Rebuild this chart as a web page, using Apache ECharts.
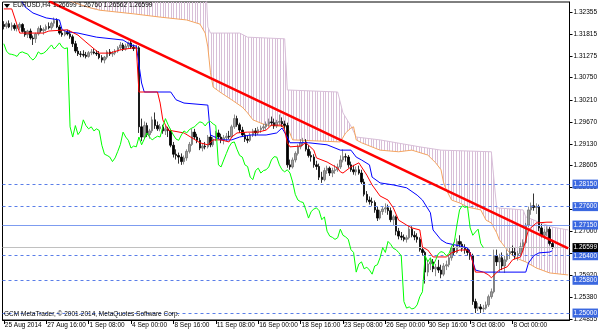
<!DOCTYPE html>
<html><head><meta charset="utf-8">
<script src="https://cdn.jsdelivr.net/npm/echarts@6/dist/echarts.min.js"></script>
<style>html,body{margin:0;padding:0;background:#fff}#c{width:600px;height:333px}</style>
</head><body><div id="c"></div>
<script>
// ---------- data ----------
const tickLabels = ['25 Aug 2014','27 Aug 16:00','1 Sep 08:00','4 Sep 00:00','8 Sep 16:00','11 Sep 08:00','16 Sep 00:00','18 Sep 16:00','23 Sep 08:00','26 Sep 00:00','30 Sep 16:00','3 Oct 08:00','8 Oct 00:00'];
const tickEvery = 16;
const barSlots = 214;
const yTicks = [1.32355,1.31815,1.31275,1.30750,1.30210,1.29670,1.29130,1.28605,1.28065,1.27525,1.27000,1.26460,1.25920,1.25380,1.24855];
const dashedLevels = [1.28150,1.27600,1.26400,1.25800,1.25000];
const solidLevel = 1.27150;
const lastPrice = 1.26599;
const symbolText = 'EURUSD,H4';
const quoteText = '1.26699 1.26760 1.26562 1.26599';
const footerText = 'GCM MetaTrader, \u00a9 2001-2014, MetaQuotes Software Corp.';

// [open, high, low, close] per H4 bar
const candles = [
[1.3205,1.3213,1.3193,1.3200],[1.3200,1.3212,1.3195,1.3207],[1.3207,1.3215,1.3196,1.3199],[1.3199,1.3210,1.3190,1.3203],[1.3203,1.3208,1.3190,1.3195],[1.3195,1.3205,1.3188,1.3198],
[1.3198,1.3210,1.3192,1.3205],[1.3205,1.3208,1.3185,1.3188],[1.3188,1.3196,1.3175,1.3180],[1.3180,1.3192,1.3172,1.3189],[1.3189,1.3195,1.3168,1.3172],[1.3172,1.3178,1.3155,1.3170],
[1.3170,1.3185,1.3160,1.3182],[1.3182,1.3200,1.3178,1.3195],[1.3195,1.3203,1.3185,1.3190],[1.3190,1.3198,1.3180,1.3193],[1.3193,1.3205,1.3188,1.3200],[1.3200,1.3210,1.3193,1.3197],
[1.3197,1.3212,1.3192,1.3208],[1.3208,1.3222,1.3200,1.3215],[1.3215,1.3220,1.3196,1.3199],[1.3199,1.3204,1.3180,1.3184],[1.3184,1.3192,1.3175,1.3180],[1.3180,1.3190,1.3176,1.3186],
[1.3186,1.3192,1.3178,1.3182],[1.3182,1.3190,1.3170,1.3175],[1.3175,1.3180,1.3150,1.3158],[1.3158,1.3165,1.3135,1.3140],[1.3140,1.3150,1.3128,1.3133],[1.3133,1.3140,1.3125,1.3132],
[1.3132,1.3142,1.3125,1.3130],[1.3130,1.3138,1.3122,1.3127],[1.3127,1.3140,1.3124,1.3136],[1.3136,1.3145,1.3130,1.3138],[1.3138,1.3146,1.3132,1.3135],[1.3135,1.3142,1.3128,1.3133],
[1.3133,1.3140,1.3120,1.3124],[1.3124,1.3130,1.3112,1.3118],[1.3118,1.3128,1.3110,1.3125],[1.3125,1.3142,1.3120,1.3138],[1.3138,1.3145,1.3128,1.3133],[1.3133,1.3140,1.3126,1.3135],
[1.3135,1.3145,1.3130,1.3140],[1.3140,1.3152,1.3136,1.3148],[1.3148,1.3162,1.3142,1.3155],[1.3155,1.3160,1.3140,1.3145],[1.3145,1.3158,1.3141,1.3152],[1.3152,1.3163,1.3147,1.3160],
[1.3160,1.3165,1.3145,1.3150],[1.3150,1.3156,1.3140,1.3146],[1.3146,1.3155,1.3140,1.3148],[1.3148,1.3152,1.2940,1.2955],[1.2955,1.2975,1.2920,1.2930],[1.2930,1.2968,1.2925,1.2958],
[1.2958,1.2965,1.2930,1.2936],[1.2936,1.2950,1.2926,1.2945],[1.2945,1.2980,1.2940,1.2972],[1.2972,1.2990,1.2950,1.2958],[1.2958,1.2968,1.2945,1.2950],[1.2950,1.2962,1.2944,1.2955],
[1.2955,1.2960,1.2938,1.2945],[1.2945,1.2958,1.2935,1.2950],[1.2950,1.2955,1.2930,1.2946],[1.2946,1.2950,1.2905,1.2910],[1.2910,1.2918,1.2880,1.2888],[1.2888,1.2900,1.2875,1.2885],
[1.2885,1.2892,1.2865,1.2881],[1.2881,1.2890,1.2862,1.2870],[1.2870,1.2885,1.2863,1.2879],[1.2879,1.2900,1.2872,1.2895],[1.2895,1.2918,1.2890,1.2912],[1.2912,1.2950,1.2908,1.2942],
[1.2942,1.2950,1.2925,1.2930],[1.2930,1.2938,1.2915,1.2922],[1.2922,1.2928,1.2898,1.2903],[1.2903,1.2915,1.2895,1.2908],[1.2908,1.2918,1.2900,1.2906],[1.2906,1.2935,1.2902,1.2930],
[1.2930,1.2936,1.2905,1.2911],[1.2911,1.2930,1.2906,1.2925],[1.2925,1.2945,1.2920,1.2940],[1.2940,1.2948,1.2925,1.2930],[1.2930,1.2938,1.2915,1.2923],[1.2923,1.2935,1.2912,1.2928],
[1.2928,1.2940,1.2920,1.2932],[1.2932,1.2945,1.2925,1.2930],[1.2930,1.2960,1.2928,1.2955],[1.2955,1.2985,1.2950,1.2975],[1.2975,1.2982,1.2955,1.2960],[1.2960,1.2965,1.2940,1.2947],
[1.2947,1.2955,1.2930,1.2935],[1.2935,1.2942,1.2918,1.2925],[1.2925,1.2935,1.2915,1.2922],[1.2922,1.2940,1.2918,1.2935],[1.2935,1.2950,1.2930,1.2945],[1.2945,1.2952,1.2932,1.2940],
[1.2940,1.2955,1.2935,1.2948],[1.2948,1.2958,1.2940,1.2952],[1.2952,1.2962,1.2945,1.2955],[1.2955,1.2968,1.2948,1.2962],[1.2962,1.2975,1.2955,1.2967],[1.2967,1.2980,1.2958,1.2965],
[1.2965,1.2975,1.2950,1.2957],[1.2957,1.2972,1.2952,1.2966],[1.2966,1.2985,1.2960,1.2968],[1.2968,1.2978,1.2955,1.2962],[1.2962,1.2970,1.2950,1.2958],[1.2958,1.2965,1.2855,1.2862],
[1.2862,1.2875,1.2850,1.2857],[1.2857,1.2880,1.2853,1.2874],[1.2874,1.2895,1.2868,1.2890],[1.2890,1.2912,1.2885,1.2906],[1.2906,1.2925,1.2900,1.2916],[1.2916,1.2928,1.2908,1.2918],
[1.2918,1.2925,1.2895,1.2900],[1.2900,1.2910,1.2880,1.2885],[1.2885,1.2895,1.2870,1.2881],[1.2881,1.2888,1.2855,1.2862],[1.2862,1.2872,1.2850,1.2858],[1.2858,1.2865,1.2825,1.2832],
[1.2832,1.2845,1.2818,1.2826],[1.2826,1.2855,1.2822,1.2848],[1.2848,1.2860,1.2840,1.2854],[1.2854,1.2858,1.2835,1.2842],[1.2842,1.2855,1.2832,1.2848],[1.2848,1.2862,1.2840,1.2850],
[1.2850,1.2865,1.2845,1.2857],[1.2857,1.2885,1.2852,1.2874],[1.2874,1.2900,1.2868,1.2882],[1.2882,1.2890,1.2870,1.2881],[1.2881,1.2886,1.2855,1.2862],[1.2862,1.2870,1.2845,1.2850],
[1.2850,1.2862,1.2838,1.2845],[1.2845,1.2858,1.2836,1.2850],[1.2850,1.2860,1.2838,1.2842],[1.2842,1.2850,1.2815,1.2820],[1.2820,1.2828,1.2785,1.2790],[1.2790,1.2798,1.2770,1.2776],
[1.2776,1.2785,1.2765,1.2772],[1.2772,1.2782,1.2762,1.2770],[1.2770,1.2775,1.2745,1.2752],[1.2752,1.2760,1.2725,1.2732],[1.2732,1.2752,1.2728,1.2748],[1.2748,1.2760,1.2740,1.2754],
[1.2754,1.2768,1.2745,1.2757],[1.2757,1.2765,1.2740,1.2750],[1.2750,1.2758,1.2722,1.2728],[1.2728,1.2740,1.2715,1.2735],[1.2735,1.2738,1.2690,1.2700],[1.2700,1.2708,1.2680,1.2688],
[1.2688,1.2698,1.2678,1.2685],[1.2685,1.2692,1.2675,1.2680],[1.2680,1.2690,1.2672,1.2684],[1.2684,1.2712,1.2680,1.2705],[1.2705,1.2712,1.2685,1.2690],[1.2690,1.2700,1.2678,1.2686],
[1.2686,1.2695,1.2672,1.2680],[1.2680,1.2685,1.2650,1.2655],[1.2655,1.2662,1.2640,1.2648],[1.2648,1.2652,1.2572,1.2600],[1.2600,1.2630,1.2590,1.2620],[1.2620,1.2635,1.2605,1.2625],
[1.2625,1.2632,1.2600,1.2608],[1.2608,1.2620,1.2590,1.2612],[1.2612,1.2630,1.2598,1.2605],[1.2605,1.2618,1.2585,1.2595],[1.2595,1.2622,1.2590,1.2615],[1.2615,1.2628,1.2605,1.2618],
[1.2618,1.2640,1.2612,1.2635],[1.2635,1.2665,1.2628,1.2660],[1.2660,1.2672,1.2640,1.2648],[1.2648,1.2682,1.2645,1.2675],[1.2675,1.2690,1.2660,1.2668],[1.2668,1.2675,1.2650,1.2658],
[1.2658,1.2668,1.2645,1.2655],[1.2655,1.2660,1.2640,1.2648],[1.2648,1.2655,1.2630,1.2640],[1.2640,1.2645,1.2520,1.2528],[1.2528,1.2535,1.2500,1.2512],[1.2512,1.2525,1.2505,1.2515],
[1.2515,1.2522,1.2500,1.2510],[1.2510,1.2520,1.2502,1.2512],[1.2512,1.2528,1.2508,1.2520],[1.2520,1.2545,1.2515,1.2540],[1.2540,1.2560,1.2535,1.2552],[1.2552,1.2655,1.2548,1.2640],
[1.2640,1.2655,1.2615,1.2625],[1.2625,1.2645,1.2600,1.2635],[1.2635,1.2648,1.2605,1.2615],[1.2615,1.2640,1.2598,1.2630],[1.2630,1.2655,1.2625,1.2645],[1.2645,1.2660,1.2632,1.2650],
[1.2650,1.2665,1.2640,1.2648],[1.2648,1.2660,1.2632,1.2640],[1.2640,1.2652,1.2628,1.2645],[1.2645,1.2672,1.2640,1.2662],[1.2662,1.2680,1.2650,1.2672],[1.2672,1.2720,1.2668,1.2715],
[1.2715,1.2760,1.2710,1.2752],[1.2752,1.2770,1.2740,1.2762],[1.2762,1.2792,1.2750,1.2758],[1.2758,1.2768,1.2742,1.2760],[1.2760,1.2765,1.2700,1.2708],[1.2708,1.2718,1.2685,1.2690],
[1.2690,1.2705,1.2680,1.2698],[1.2698,1.2712,1.2688,1.2705],[1.2705,1.2710,1.2665,1.2670],[1.26699,1.26760,1.26562,1.26599]
];
const chikouShift = 26;

// Ichimoku lines, vertices read as [bar, price]
const tenkan = [[0,1.3243],[3,1.3243],[5,1.3204],[6,1.3184],[15,1.3184],[17,1.3189],[24,1.3192],[28,1.3179],[31,1.3162],[36,1.3135],[40,1.3135],[44,1.3143],[49,1.3148],[50,1.3148],[51,1.3040],[58,1.3040],[59,1.3013],[60,1.2972],[62,1.2947],[68,1.2940],[74,1.2916],[77,1.2911],[79,1.2923],[82,1.2923],[85,1.2918],[86,1.2930],[88,1.2940],[92,1.2942],[96,1.2942],[99,1.2947],[101,1.2959],[105,1.2959],[106,1.2947],[107,1.2916],[108,1.2906],[112,1.2908],[114,1.2916],[117,1.2898],[118,1.2879],[122,1.2869],[126,1.2854],[127,1.2845],[128,1.2842],[131,1.2857],[134,1.2867],[135,1.2857],[137,1.2837],[139,1.2813],[142,1.2786],[145,1.2776],[147,1.2757],[149,1.2727],[152,1.2715],[154,1.2708],[157,1.2703],[158,1.2661],[160,1.2654],[162,1.2637],[167,1.2637],[169,1.2647],[172,1.2654],[175,1.2654],[176,1.2647],[178,1.2600],[181,1.2600],[183,1.2593],[184,1.2586],[187,1.2605],[190,1.2613],[192,1.2630],[195,1.2637],[196,1.2654],[197,1.2679],[198,1.2703],[201,1.2720],[205,1.2722],[207,1.2722]];
const kijun = [[6,1.3270],[8,1.3248],[11,1.3233],[16,1.3221],[21,1.3216],[22,1.3192],[24,1.3187],[28,1.3184],[35,1.3174],[45,1.3167],[48,1.3155],[50,1.3152],[52,1.3062],[53,1.3040],[63,1.3040],[65,1.3021],[68,1.3013],[77,1.3008],[78,1.2935],[82,1.2923],[86,1.2923],[89,1.2930],[93,1.2935],[99,1.2935],[103,1.2940],[105,1.2952],[107,1.2930],[108,1.2916],[115,1.2916],[122,1.2911],[127,1.2898],[131,1.2898],[133,1.2881],[135,1.2874],[138,1.2862],[139,1.2832],[142,1.2818],[147,1.2813],[152,1.2806],[156,1.2788],[158,1.2776],[161,1.2745],[162,1.2703],[165,1.2679],[167,1.2671],[172,1.2664],[175,1.2659],[176,1.2647],[178,1.2605],[181,1.2600],[197,1.2600],[198,1.2622],[200,1.2640],[202,1.2647],[206,1.2649],[207,1.2652]];
const spanA = [[0,1.3320],[22,1.3290],[24,1.3265],[29,1.3253],[33,1.3245],[35,1.3242],[36,1.3240],[49,1.3231],[59,1.3223],[69,1.3216],[74,1.3206],[76,1.3184],[77,1.3150],[78,1.3087],[79,1.3052],[82,1.3038],[86,1.3021],[90,1.3003],[92,1.2989],[94,1.2972],[97,1.2964],[99,1.2959],[107,1.2955],[109,1.2923],[127,1.2918],[129,1.2940],[131,1.2952],[132,1.2955],[133,1.2923],[135,1.2916],[142,1.2898],[149,1.2894],[154,1.2898],[160,1.2886],[163,1.2867],[165,1.2850],[166,1.2818],[167,1.2801],[169,1.2776],[172,1.2769],[175,1.2759],[180,1.2752],[182,1.2727],[184,1.2720],[186,1.2696],[187,1.2679],[190,1.2654],[192,1.2640],[195,1.2630],[197,1.2625],[201,1.2610],[206,1.2598],[213,1.2593]];
const spanB = [[0,1.3320],[22,1.3290],[24,1.3265],[29,1.3253],[33,1.3245],[35,1.3242],[36,1.3340],[76,1.3340],[77,1.3199],[78,1.3184],[89,1.3184],[92,1.3174],[106,1.3170],[107,1.3045],[126,1.3040],[128,1.2989],[131,1.2957],[133,1.2930],[142,1.2923],[157,1.2906],[165,1.2898],[184,1.2894],[186,1.2757],[196,1.2752],[197,1.2735],[202,1.2722],[207,1.2710],[213,1.2703]];
const trendLine = [[17,1.3262],[213,1.2658]];

// ---------- chart ----------
const categories = Array.from({length: barSlots}, (_, i) => String(i));
const ohlc = candles.map(r => [r[0], r[3], r[2], r[1]]);
const chikou = candles.slice(chikouShift).map((r, i) => [i, r[3]]);
const isTick = i => i % tickEvery === 0 && i / tickEvery < tickLabels.length;

const pc = document.createElement('canvas'); pc.width = 8; pc.height = 4;
const pg = pc.getContext('2d'); pg.fillStyle = '#d8bfd8';
[0, 3, 5].forEach(x => pg.fillRect(x, 0, 1, 4));

const FONT = 'Liberation Sans';
const boxLabel = (bg) => ({show: true, position: 'end', distance: 3, formatter: p => Number(p.value).toFixed(5), color: '#fff', backgroundColor: bg, padding: [1, 1, 0, 1], fontSize: 6.5, lineHeight: 8, fontFamily: FONT});

const chart = echarts.init(document.getElementById('c'));
chart.setOption({
  animation: false,
  backgroundColor: '#fff',
  textStyle: {fontFamily: FONT},
  grid: {left: 2.5, right: 30, top: 2, bottom: 13, show: true, borderColor: '#000', borderWidth: 1, backgroundColor: '#fff'},
  xAxis: {
    type: 'category', data: categories, boundaryGap: true,
    axisLine: {show: true, lineStyle: {color: '#000', width: 1}},
    axisTick: {show: true, alignWithLabel: true, interval: i => isTick(i), length: 4, lineStyle: {color: '#000'}},
    axisLabel: {interval: i => isTick(i), formatter: (v, i) => tickLabels[i / tickEvery], align: 'left', fontSize: 6.5, color: '#000', margin: 2, padding: [0, 0, 0, 1]},
    splitLine: {show: false}
  },
  yAxis: {
    type: 'value', position: 'right', min: 1.2483, max: 1.32599, scale: true,
    axisLine: {show: true, lineStyle: {color: '#000', width: 1}},
    axisTick: {show: true, length: 3, customValues: yTicks, lineStyle: {color: '#000'}},
    axisLabel: {customValues: yTicks, formatter: v => v.toFixed(5), fontSize: 6.5, color: '#000', margin: 4},
    splitLine: {show: false}
  },
  series: [
    {type: 'custom', name: 'cloud', z: 1, silent: true, clip: true, data: [0],
      renderItem: (params, api) => {
        const pts = spanA.map(p => api.coord(p)).concat(spanB.slice().reverse().map(p => api.coord(p)));
        const cs = params.coordSys;
        return {type: 'group', children: [{type: 'polygon', shape: {points: pts}, style: {fill: {image: pc, repeat: 'repeat'}, stroke: null}}],
          clipPath: {type: 'rect', shape: {x: cs.x, y: cs.y, width: cs.width, height: cs.height}}};
      }},
    {type: 'line', name: 'spanB', z: 2, data: spanB, symbol: 'none', lineStyle: {color: '#d8bfd8', width: 1}},
    {type: 'line', name: 'spanA', z: 2, data: spanA, symbol: 'none', lineStyle: {color: '#f4a460', width: 1}},
    {type: 'line', name: 'levels', z: 3, data: [], symbol: 'none',
      markLine: {symbol: ['none', 'none'], silent: true, animation: false, precision: 5,
        data: dashedLevels.map(v => ({yAxis: v, lineStyle: {color: '#5a7ee8', type: [3, 3], width: 1}, label: boxLabel('#3b68e0')}))
          .concat([{yAxis: solidLevel, lineStyle: {color: '#7d9cf0', type: 'solid', width: 1}, label: boxLabel('#3b68e0')},
                   {yAxis: lastPrice, lineStyle: {color: '#c0c0c0', type: 'solid', width: 1}, label: boxLabel('#000')}])}},
    {type: 'candlestick', name: 'EURUSD', z: 4, data: ohlc, barWidth: 2,
      itemStyle: {color: '#a0a0a0', color0: '#000', borderColor: '#707070', borderColor0: '#000', borderWidth: 0.8}},
    {type: 'line', name: 'kijun', z: 5, data: kijun, symbol: 'none', lineStyle: {color: '#0000ff', width: 1}},
    {type: 'line', name: 'tenkan', z: 5, data: tenkan, symbol: 'none', lineStyle: {color: '#ff0000', width: 1}},
    {type: 'line', name: 'chikou', z: 5, data: chikou, symbol: 'none', lineStyle: {color: '#00ff00', width: 1}},
    {type: 'line', name: 'trend', z: 6, data: trendLine, symbol: 'none', lineStyle: {color: '#ff0000', width: 2.5}}
  ],
  graphic: [
    {type: 'polygon', z: 100, shape: {points: [[4, 4], [10, 4], [7, 8]]}, style: {fill: '#000'}},
    {type: 'text', z: 100, left: 13, top: 2, style: {text: symbolText, fontSize: 6.5, fill: '#000', fontFamily: FONT}},
    {type: 'text', z: 100, left: 53, top: 2, style: {text: quoteText, fontSize: 6.5, fill: '#000', fontFamily: FONT}},
    {type: 'text', z: 100, left: 4, top: 311, style: {text: footerText, fontSize: 6.5, fill: '#000', fontFamily: FONT}}
  ]
});
</script></body></html>
